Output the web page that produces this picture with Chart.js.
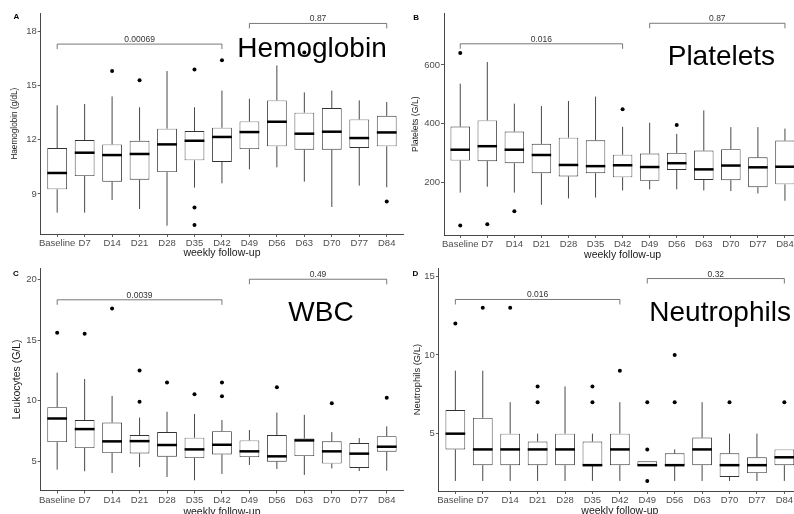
<!DOCTYPE html>
<html>
<head>
<meta charset="utf-8">
<title>Weekly follow-up blood counts</title>
<script src="https://cdn.jsdelivr.net/npm/chart.js@4.4.0/dist/chart.umd.min.js"></script>
<style>
  body { margin: 0; background: #fff; width: 794px; height: 514px; overflow: hidden; position: relative; }
  canvas { position: absolute; }
</style>
</head>
<body>
<canvas id="hb" width="406" height="258" style="left:0;top:0"></canvas>
<canvas id="plt" width="403" height="260" style="left:400px;top:0"></canvas>
<canvas id="wbc" width="406" height="260" style="left:0;top:257px"></canvas>
<canvas id="neu" width="403" height="259" style="left:400px;top:257px"></canvas>
<script>
const cats = ['Baseline', 'D7', 'D14', 'D21', 'D28', 'D35', 'D42', 'D49', 'D56', 'D63', 'D70', 'D77', 'D84'];

// Haemoglobin (g/dL)
const hbLow  = [7.97, 7.97, 8.67, 8.17, 7.25, 9.35, 9.59, 10.36, 10.47, 9.68, 8.28, 9.46, 9.37];
const hbQ1   = [9.26, 9.99, 9.68, 9.79, 10.21, 10.86, 10.77, 11.48, 11.63, 11.45, 11.45, 11.54, 11.63];
const hbMed  = [10.16, 11.28, 11.15, 11.21, 11.74, 11.94, 12.15, 12.42, 12.99, 12.33, 12.44, 12.09, 12.40];
const hbQ3   = [11.54, 11.98, 11.74, 11.94, 12.61, 12.48, 12.66, 13.01, 14.17, 13.49, 13.75, 13.12, 13.32];
const hbHigh = [13.90, 13.97, 14.39, 13.79, 15.79, 13.79, 14.71, 14.26, 16.10, 14.61, 14.71, 14.17, 14.08];
const hbOut  = [[], [], [15.79], [15.28], [], [15.88, 8.26, 7.29], [16.38], [], [], [16.82], [], [], [8.58]];
const hbTicks = [9, 12, 15, 18];
const hbBrackets = [[0, 6, 17.28, '0.00069'], [7, 12, 18.42, '0.87']];

// Platelets (G/L)
const pltLow  = [165, 185, 165, 123, 145, 148, 172, 176, 176, 172, 170, 162, 137];
const pltQ1   = [274, 272, 265, 231, 220, 231, 217, 205, 242, 208, 207, 183, 193];
const pltMed  = [311, 323, 311, 293, 259, 255, 258, 252, 265, 244, 257, 251, 253];
const pltQ3   = [390, 411, 373, 331, 352, 343, 294, 298, 300, 308, 313, 285, 342];
const pltHigh = [536, 610, 468, 460, 477, 492, 389, 403, 365, 445, 388, 388, 383];
const pltOut  = [[641, 53], [57], [101], [], [], [], [449], [], [395], [], [], [], []];
const pltTicks = [200, 400, 600];
const pltBrackets = [[0, 6, 672, '0.016'], [7, 12, 742, '0.87']];

// Leukocytes (G/L)
const wbcLow  = [4.34, 4.21, 4.07, 4.56, 3.74, 3.47, 3.99, 4.73, 4.40, 3.91, 4.45, 4.23, 4.26];
const wbcQ1   = [6.61, 6.12, 5.71, 5.68, 5.41, 5.30, 5.60, 5.38, 5.00, 5.46, 4.84, 4.48, 5.82];
const wbcMed  = [8.55, 7.68, 6.67, 6.69, 6.37, 6.01, 6.39, 5.85, 5.44, 6.75, 5.85, 5.66, 6.23];
const wbcQ3   = [9.48, 8.42, 8.22, 7.19, 7.43, 6.97, 7.51, 6.75, 7.19, 6.91, 6.67, 6.53, 7.10];
const wbcHigh = [12.32, 11.80, 10.41, 8.63, 9.10, 8.91, 8.42, 7.60, 9.04, 8.85, 7.43, 6.94, 7.90];
const wbcOut  = [[15.6], [15.52], [17.6], [12.49, 9.92], [11.5], [10.55], [11.5, 10.38], [], [11.12], [], [9.81], [], [10.25]];
const wbcTicks = [5, 10, 15, 20];
const wbcBrackets = [[0, 6, 18.31, '0.0039'], [7, 12, 20.0, '0.49']];

// Neutrophils (G/L)
const neuLow  = [2, 2, 2, 2, 2, 2, 2, 3, 2, 2, 2, 2, 2];
const neuQ1   = [4, 3, 3, 3, 3, 3, 3, 3, 3, 3, 2.25, 2.5, 3];
const neuMed  = [5, 4, 4, 4, 4, 3, 4, 3, 3, 4, 3, 3, 3.5];
const neuQ3   = [6.5, 6, 5, 4.5, 5, 4.5, 5, 3.25, 3.75, 4.75, 3.75, 3.5, 4];
const neuHigh = [9, 9, 7, 5, 8, 5, 7, 3.25, 4, 7, 5, 5, 4];
const neuOut  = [[12], [13], [13], [8, 7], [], [8, 7], [9], [7, 4, 2], [10, 7], [], [7], [], [7]];
const neuTicks = [5, 10, 15];
const neuBrackets = [[0, 6, 13.52, '0.016'], [7, 12, 14.85, '0.32']];

const FONT = '"Liberation Sans", Arial, Helvetica, sans-serif';
Chart.defaults.font.family = FONT;

// whiskers, medians, comparison brackets and panel captions
function boxPlugin(p) {
  return {
    id: 'box_' + p.id,
    beforeDatasetsDraw(chart) {
      const {ctx, scales: {x, y}} = chart;
      ctx.save();
      ctx.strokeStyle = '#333';
      ctx.lineWidth = 0.9;
      cats.forEach((c, i) => {
        const px = x.getPixelForValue(i);
        ctx.beginPath();
        ctx.moveTo(px, y.getPixelForValue(p.low[i]));
        ctx.lineTo(px, y.getPixelForValue(p.q1[i]));
        ctx.moveTo(px, y.getPixelForValue(p.q3[i]));
        ctx.lineTo(px, y.getPixelForValue(p.high[i]));
        ctx.stroke();
      });
      ctx.restore();
    },
    afterDatasetsDraw(chart) {
      const {ctx, scales: {y}} = chart;
      const boxes = chart.getDatasetMeta(0).data;
      ctx.save();
      ctx.strokeStyle = '#000';
      ctx.lineWidth = 2.5;
      boxes.forEach((bar, i) => {
        const py = y.getPixelForValue(p.med[i]);
        ctx.beginPath();
        ctx.moveTo(bar.x - bar.width / 2, py);
        ctx.lineTo(bar.x + bar.width / 2, py);
        ctx.stroke();
      });
      ctx.restore();
    },
    afterDraw(chart) {
      const {ctx, scales: {x, y}} = chart;
      ctx.save();
      ctx.strokeStyle = '#555';
      ctx.lineWidth = 0.8;
      ctx.fillStyle = '#333';
      ctx.font = '8.5px ' + FONT;
      ctx.textAlign = 'center';
      ctx.textBaseline = 'alphabetic';
      p.brackets.forEach(([from, to, val, txt]) => {
        const x1 = x.getPixelForValue(from);
        const x2 = x.getPixelForValue(to);
        const py = y.getPixelForValue(val);
        ctx.beginPath();
        ctx.moveTo(x1, py + 5);
        ctx.lineTo(x1, py);
        ctx.lineTo(x2, py);
        ctx.lineTo(x2, py + 5);
        ctx.stroke();
        ctx.fillText(txt, (x1 + x2) / 2, py - 2);
      });

      ctx.fillStyle = '#000';
      ctx.textAlign = 'left';
      ctx.font = '28px ' + FONT;
      ctx.fillText(p.label, p.labelX, p.labelY);

      ctx.textAlign = 'center';
      ctx.font = 'bold 8px ' + FONT;
      ctx.fillText(p.letter, p.letterX, p.letterY);
      ctx.restore();
    }
  };
}

function drawPanel(p) {
  const canvas = document.getElementById(p.id);
  const outliers = p.out.flatMap((vals, i) => vals.map(v => ({x: i, y: v})));
  const axisGrid = {
    display: true, drawOnChartArea: false, drawTicks: true,
    tickLength: 3, color: '#333', lineWidth: 0.8, offset: false
  };

  new Chart(canvas, {
    type: 'bar',
    data: {
      datasets: [{
        type: 'bar',
        data: cats.map((c, i) => ({x: i, y: [p.q1[i], p.q3[i]]})),
        backgroundColor: '#fff',
        borderColor: '#333',
        borderWidth: 0.9,
        borderSkipped: false,
        barPercentage: 0.72,
        categoryPercentage: 1
      }, {
        type: 'scatter',
        data: outliers,
        pointRadius: 2,
        pointBackgroundColor: '#000',
        pointBorderWidth: 0
      }]
    },
    options: {
      responsive: false,
      animation: false,
      layout: {
        autoPadding: false,
        padding: {left: 0, top: p.padTop, right: p.padRight, bottom: 0}
      },
      plugins: {legend: {display: false}, tooltip: {enabled: false}},
      scales: {
        x: {
          type: 'linear',
          min: -0.6,
          max: 12.6,
          offset: false,
          afterBuildTicks: s => { s.ticks = cats.map((c, i) => ({value: i})); },
          afterFit: s => { s.height = p.xH; },
          grid: axisGrid,
          border: {display: true, color: '#333', width: 0.9},
          ticks: {
            autoSkip: false, maxRotation: 0, minRotation: 0, padding: 1,
            color: '#4d4d4d', font: {size: 9.5},
            callback: v => cats[v]
          },
          title: {
            display: true, text: 'weekly follow-up', color: '#1a1a1a',
            font: {size: 10.5, lineHeight: 1}, padding: 0
          }
        },
        y: {
          type: 'linear',
          min: p.yMin,
          max: p.yMax,
          afterBuildTicks: s => { s.ticks = p.ticks.map(v => ({value: v})); },
          afterFit: s => { s.width = p.yW; },
          grid: axisGrid,
          border: {display: true, color: '#333', width: 0.9},
          ticks: {padding: 1, color: '#4d4d4d', font: {size: 9.5}},
          title: {
            display: true, text: p.yTitle, color: '#1a1a1a',
            font: {size: p.yTitleSize, lineHeight: 1},
            padding: {top: p.yTitleX - p.yTitleSize / 2, bottom: 0}
          }
        }
      }
    },
    plugins: [boxPlugin(p)]
  });
}

drawPanel({
  id: 'hb', low: hbLow, q1: hbQ1, med: hbMed, q3: hbQ3, high: hbHigh, out: hbOut,
  ticks: hbTicks, brackets: hbBrackets, yMin: 6.79, yMax: 18.98,
  yTitle: 'Haemoglobin (g/dL)', yTitleSize: 8.2, yTitleX: 15,
  padTop: 13.3, padRight: 2.8, yW: 40.7, xH: 24,
  label: 'Hemoglobin', labelX: 237.3, labelY: 57.3,
  letter: 'A', letterX: 16.5, letterY: 19.3
});

drawPanel({
  id: 'plt', low: pltLow, q1: pltQ1, med: pltMed, q3: pltQ3, high: pltHigh, out: pltOut,
  ticks: pltTicks, brackets: pltBrackets, yMin: 20.3, yMax: 776,
  yTitle: 'Platelets (G/L)', yTitleSize: 8.7, yTitleX: 16,
  padTop: 13.3, padRight: 1.8, yW: 44, xH: 25,
  label: 'Platelets', labelX: 267.7, labelY: 65,
  letter: 'B', letterX: 16.2, letterY: 20
});

drawPanel({
  id: 'wbc', low: wbcLow, q1: wbcQ1, med: wbcMed, q3: wbcQ3, high: wbcHigh, out: wbcOut,
  ticks: wbcTicks, brackets: wbcBrackets, yMin: 2.63, yMax: 20.9,
  yTitle: 'Leukocytes (G/L)', yTitleSize: 10.5, yTitleX: 17,
  padTop: 11.3, padRight: 2.8, yW: 40.7, xH: 26.5,
  label: 'WBC', labelX: 288.3, labelY: 63.7,
  letter: 'C', letterX: 15.8, letterY: 18.7
});

drawPanel({
  id: 'neu', low: neuLow, q1: neuQ1, med: neuMed, q3: neuQ3, high: neuHigh, out: neuOut,
  ticks: neuTicks, brackets: neuBrackets, yMin: 1.36, yMax: 15.5,
  yTitle: 'Neutrophils (G/L)', yTitleSize: 9.4, yTitleX: 17.5,
  padTop: 11.3, padRight: 2.2, yW: 38.9, xH: 25,
  label: 'Neutrophils', labelX: 249.3, labelY: 63.7,
  letter: 'D', letterX: 15.5, letterY: 18.7
});
</script>
</body>
</html>
